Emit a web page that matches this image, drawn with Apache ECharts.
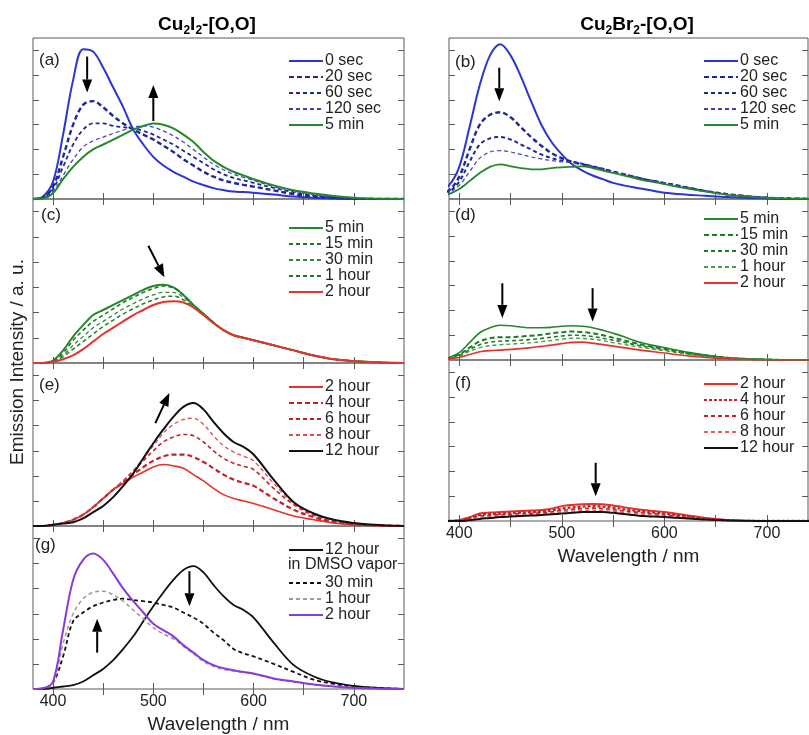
<!DOCTYPE html>
<html>
<head>
<meta charset="utf-8">
<script src="https://cdn.jsdelivr.net/npm/echarts@6/dist/echarts.min.js"></script>
<style>
  html, body { margin: 0; padding: 0; background: #fff; }
  #chart { width: 809px; height: 735px; }
</style>
</head>
<body>
<div id="chart"></div>
<script>
// wavelength grid (nm) shared by every trace
const wl = [380, 390, 400, 410, 420, 430, 440, 450, 460, 470, 480, 490, 500, 510, 520, 530, 540, 550, 560, 570, 580, 590, 600, 620, 640, 660, 680, 700, 720, 750]

const xTicks = [400, 450, 500, 550, 600, 650, 700]
const xLabels = [400, 500, 600, 700]
const yTicks = [1, 2, 3, 4, 5, 6]

// (a) Cu2I2, 0 sec -> 5 min
const a0s = [0, 0.1, 0.7, 2.6, 4.8, 6.05, 5.95, 5.3, 4.5, 3.7, 2.8, 2.2, 1.7, 1.35, 1.1, 0.9, 0.7, 0.56, 0.44, 0.36, 0.3, 0.28, 0.25, 0.18, 0.1, 0.05, 0.02, 0, 0, 0]
const a20s = [0, 0.05, 0.5, 1.7, 3.0, 3.8, 3.95, 3.7, 3.35, 3.05, 2.8, 2.6, 2.4, 2.15, 1.9, 1.6, 1.35, 1.1, 0.9, 0.75, 0.65, 0.57, 0.5, 0.35, 0.2, 0.1, 0.05, 0.02, 0, 0]
const a60s = [0, 0.05, 0.4, 1.3, 2.2, 2.8, 3.05, 3.05, 2.95, 2.9, 2.85, 2.75, 2.6, 2.4, 2.2, 1.95, 1.7, 1.45, 1.2, 1.0, 0.85, 0.75, 0.65, 0.45, 0.28, 0.15, 0.07, 0.03, 0, 0]
const a120s = [0, 0.03, 0.3, 0.95, 1.6, 2.1, 2.35, 2.5, 2.65, 2.78, 2.9, 2.95, 2.9, 2.75, 2.55, 2.3, 2.0, 1.7, 1.4, 1.18, 1.0, 0.87, 0.75, 0.5, 0.32, 0.18, 0.08, 0.03, 0, 0]
const a5m = [0, 0.02, 0.24, 0.8, 1.3, 1.7, 2.0, 2.2, 2.4, 2.6, 2.8, 2.95, 3.05, 3.0, 2.85, 2.6, 2.3, 1.9, 1.55, 1.3, 1.1, 0.95, 0.8, 0.55, 0.35, 0.22, 0.12, 0.05, 0.02, 0]

// (c) Cu2I2, 5 min -> 2 hour
const c5m = [0, 0, 0.1, 0.5, 1.05, 1.5, 1.9, 2.1, 2.3, 2.5, 2.7, 2.9, 3.05, 3.1, 3.0, 2.7, 2.3, 1.95, 1.6, 1.3, 1.1, 1.0, 0.9, 0.7, 0.5, 0.3, 0.15, 0.08, 0.03, 0]
const c15m = [0, 0, 0.08, 0.4, 0.9, 1.3, 1.65, 1.9, 2.15, 2.4, 2.6, 2.8, 2.95, 3.05, 2.98, 2.7, 2.3, 1.95, 1.6, 1.3, 1.1, 1.0, 0.9, 0.7, 0.5, 0.3, 0.15, 0.08, 0.03, 0]
const c30m = [0, 0, 0.06, 0.3, 0.7, 1.05, 1.4, 1.65, 1.9, 2.15, 2.35, 2.55, 2.7, 2.8, 2.8, 2.6, 2.25, 1.92, 1.6, 1.3, 1.1, 1.0, 0.9, 0.7, 0.5, 0.3, 0.15, 0.08, 0.03, 0]
const c1h = [0, 0, 0.05, 0.25, 0.55, 0.85, 1.15, 1.45, 1.7, 1.95, 2.15, 2.35, 2.5, 2.62, 2.65, 2.5, 2.2, 1.9, 1.58, 1.3, 1.1, 1.0, 0.9, 0.7, 0.5, 0.3, 0.15, 0.08, 0.03, 0]
const c2h = [0, 0, 0.05, 0.15, 0.3, 0.55, 0.85, 1.15, 1.4, 1.65, 1.9, 2.1, 2.3, 2.42, 2.45, 2.4, 2.2, 1.9, 1.58, 1.3, 1.1, 1.0, 0.9, 0.7, 0.5, 0.3, 0.15, 0.08, 0.03, 0]

// (e) Cu2I2, 2 hour -> 12 hour
const e2h = [0, 0, 0.05, 0.12, 0.25, 0.45, 0.75, 1.1, 1.45, 1.7, 1.95, 2.15, 2.35, 2.45, 2.4, 2.3, 2.05, 1.8, 1.5, 1.25, 1.1, 1.0, 0.9, 0.65, 0.4, 0.25, 0.12, 0.05, 0.02, 0]
const e4h = [0, 0, 0.05, 0.12, 0.25, 0.45, 0.75, 1.1, 1.45, 1.75, 2.05, 2.35, 2.6, 2.78, 2.85, 2.85, 2.75, 2.55, 2.3, 2.05, 1.85, 1.72, 1.6, 1.1, 0.65, 0.35, 0.17, 0.07, 0.03, 0]
const e6h = [0, 0, 0.05, 0.12, 0.25, 0.45, 0.75, 1.1, 1.45, 1.8, 2.2, 2.6, 3.0, 3.35, 3.55, 3.65, 3.6, 3.35, 3.0, 2.7, 2.5, 2.38, 2.25, 1.5, 0.85, 0.42, 0.2, 0.08, 0.03, 0]
const e8h = [0, 0, 0.05, 0.12, 0.25, 0.45, 0.75, 1.1, 1.45, 1.8, 2.2, 2.7, 3.2, 3.7, 4.05, 4.25, 4.3, 4.05, 3.6, 3.2, 2.95, 2.78, 2.6, 1.7, 0.9, 0.45, 0.22, 0.1, 0.04, 0]
const i12h = [0, 0, 0.05, 0.1, 0.15, 0.3, 0.55, 0.8, 1.15, 1.6, 2.1, 2.7, 3.3, 3.85, 4.35, 4.75, 4.9, 4.65, 4.15, 3.7, 3.35, 3.15, 2.85, 1.85, 0.95, 0.5, 0.25, 0.12, 0.05, 0]

// (g) Cu2I2 in DMSO vapor
const g30m = [0, 0.02, 0.25, 1.3, 2.7, 3.05, 3.3, 3.45, 3.55, 3.6, 3.55, 3.5, 3.45, 3.35, 3.25, 3.05, 2.85, 2.6, 2.25, 1.95, 1.6, 1.42, 1.3, 1.0, 0.68, 0.37, 0.2, 0.1, 0.05, 0]
const g1h = [0, 0.02, 0.25, 1.8, 3.0, 3.6, 3.85, 3.9, 3.75, 3.5, 3.15, 2.8, 2.45, 2.2, 2.0, 1.7, 1.4, 1.1, 0.9, 0.78, 0.72, 0.66, 0.6, 0.4, 0.28, 0.17, 0.1, 0.05, 0.02, 0]
const g2h = [0, 0.03, 0.3, 2.35, 4.35, 5.15, 5.4, 5.15, 4.6, 4.0, 3.5, 3.05, 2.6, 2.35, 2.1, 1.75, 1.45, 1.15, 0.95, 0.83, 0.75, 0.68, 0.62, 0.42, 0.3, 0.18, 0.1, 0.05, 0.02, 0]

// (b) Cu2Br2, 0 sec -> 5 min
const b0s = [0.3, 0.55, 1.3, 2.9, 4.6, 5.8, 6.25, 5.8, 4.95, 3.95, 3.0, 2.3, 1.8, 1.4, 1.15, 0.95, 0.8, 0.65, 0.55, 0.47, 0.4, 0.32, 0.25, 0.18, 0.13, 0.08, 0.04, 0.02, 0, 0]
const b20s = [0.2, 0.35, 0.9, 2.0, 3.0, 3.4, 3.5, 3.3, 2.9, 2.5, 2.15, 1.85, 1.65, 1.5, 1.4, 1.3, 1.2, 1.1, 1.0, 0.9, 0.8, 0.72, 0.64, 0.48, 0.32, 0.2, 0.11, 0.05, 0.02, 0]
const b60s = [0.15, 0.3, 0.7, 1.5, 2.2, 2.45, 2.5, 2.4, 2.2, 2.0, 1.8, 1.65, 1.55, 1.5, 1.42, 1.32, 1.22, 1.1, 1.0, 0.9, 0.8, 0.72, 0.64, 0.48, 0.32, 0.2, 0.11, 0.05, 0.02, 0]
const b120s = [0.1, 0.25, 0.55, 1.1, 1.65, 1.9, 1.95, 1.9, 1.8, 1.7, 1.62, 1.55, 1.5, 1.48, 1.42, 1.32, 1.22, 1.1, 1.0, 0.9, 0.8, 0.72, 0.64, 0.48, 0.32, 0.2, 0.11, 0.05, 0.02, 0]
const b5m = [0.1, 0.2, 0.4, 0.72, 1.05, 1.3, 1.4, 1.32, 1.25, 1.2, 1.2, 1.25, 1.28, 1.3, 1.32, 1.25, 1.15, 1.05, 0.95, 0.85, 0.75, 0.68, 0.6, 0.44, 0.3, 0.18, 0.1, 0.05, 0.02, 0]

// (d) Cu2Br2, 5 min -> 2 hour
const d5m = [0, 0.1, 0.3, 0.7, 1.1, 1.3, 1.4, 1.38, 1.33, 1.3, 1.3, 1.32, 1.36, 1.38, 1.36, 1.3, 1.2, 1.08, 0.95, 0.8, 0.68, 0.58, 0.5, 0.33, 0.2, 0.1, 0.05, 0.02, 0, 0]
const d15m = [0, 0.08, 0.22, 0.5, 0.75, 0.88, 0.92, 0.92, 0.95, 0.98, 1.02, 1.08, 1.12, 1.15, 1.13, 1.08, 1.0, 0.9, 0.8, 0.7, 0.6, 0.52, 0.45, 0.3, 0.18, 0.09, 0.04, 0.02, 0, 0]
const d30m = [0, 0.07, 0.18, 0.42, 0.62, 0.72, 0.76, 0.78, 0.8, 0.83, 0.87, 0.92, 0.97, 1.0, 0.99, 0.95, 0.88, 0.8, 0.72, 0.63, 0.55, 0.48, 0.42, 0.28, 0.16, 0.08, 0.04, 0.02, 0, 0]
const d1h = [0, 0.06, 0.15, 0.35, 0.5, 0.58, 0.62, 0.64, 0.67, 0.7, 0.74, 0.79, 0.84, 0.88, 0.87, 0.84, 0.78, 0.7, 0.63, 0.56, 0.49, 0.43, 0.38, 0.25, 0.14, 0.07, 0.03, 0.01, 0, 0]
const d2h = [0, 0.05, 0.1, 0.22, 0.33, 0.38, 0.4, 0.43, 0.46, 0.5, 0.55, 0.6, 0.66, 0.71, 0.72, 0.68, 0.62, 0.56, 0.5, 0.44, 0.38, 0.33, 0.28, 0.18, 0.1, 0.05, 0.02, 0.01, 0, 0]

// (f) Cu2Br2, 2 hour -> 12 hour
const f2h = [0, 0, 0.04, 0.15, 0.3, 0.34, 0.36, 0.38, 0.4, 0.42, 0.44, 0.5, 0.6, 0.65, 0.68, 0.69, 0.68, 0.63, 0.56, 0.5, 0.44, 0.4, 0.36, 0.24, 0.12, 0.04, 0, 0, 0, 0]
const f4h = [0, 0, 0.03, 0.12, 0.25, 0.28, 0.3, 0.32, 0.34, 0.36, 0.38, 0.43, 0.5, 0.55, 0.58, 0.6, 0.58, 0.54, 0.48, 0.43, 0.38, 0.34, 0.3, 0.2, 0.1, 0.03, 0, 0, 0, 0]
const f6h = [0, 0, 0.02, 0.1, 0.2, 0.23, 0.25, 0.27, 0.29, 0.31, 0.33, 0.37, 0.43, 0.47, 0.5, 0.52, 0.5, 0.46, 0.41, 0.37, 0.32, 0.29, 0.25, 0.16, 0.08, 0.03, 0, 0, 0, 0]
const f8h = [0, 0, 0.01, 0.07, 0.15, 0.18, 0.2, 0.22, 0.24, 0.26, 0.28, 0.32, 0.37, 0.4, 0.42, 0.44, 0.42, 0.39, 0.35, 0.31, 0.27, 0.24, 0.2, 0.13, 0.07, 0.02, 0, 0, 0, 0]
const f12h = [0, 0, 0, 0.03, 0.08, 0.12, 0.16, 0.18, 0.2, 0.22, 0.24, 0.27, 0.3, 0.33, 0.36, 0.36, 0.36, 0.33, 0.28, 0.24, 0.2, 0.18, 0.16, 0.11, 0.06, 0.03, 0.01, 0, 0, 0]

// arrows drawn in data coords: [panel, x1, y1, x2, y2]
const arrows = [
  [0, 434, 5.75, 434, 4.3], [0, 500, 3.15, 500, 4.6],
  [1, 495, 4.65, 511, 3.4],
  [2, 502, 4.1, 516, 5.3],
  [3, 536, 4.7, 536, 3.3], [3, 444, 1.45, 444, 2.8],
  [4, 439, 5.3, 439, 3.95],
  [5, 442, 3.1, 442, 1.7], [5, 530, 2.9, 530, 1.55],
  [6, 533, 2.35, 533, 1.0]
]

// panel layout: a, c, e, g on the left, b, d, f on the right
const panelLabels = ['(a)', '(c)', '(e)', '(g)', '(b)', '(d)', '(f)']
const gridTop = [38, 199, 363, 526, 38, 199, 360]
const gridH = [161, 164, 163, 163, 161, 161, 161]
const labelPos = [[39, 60], [41, 215], [39, 385], [35, 545], [455, 62], [455, 215], [455, 383]]
const legendPos = [[288, 53], [288, 220], [288, 379], [288, 575], [703, 53], [703, 211], [703, 376]]

const font = 'Liberation Sans, Arial, sans-serif'
const BLUE = '#2a36d4', NAVY = '#1e2896', GREEN = '#24882c', RED = '#e5322c', DRED = '#c81e2a'

const series = []
const legendNames = [[], [], [], [], [], [], []]

function line(panel, name, data, color, width, dash) {
  const id = panel + '|' + name
  series.push({
    type: 'line',
    name: id,
    xAxisIndex: panel * 2,
    yAxisIndex: panel * 2,
    data: wl.map((w, i) => [w, data[i]]),
    showSymbol: false,
    symbol: 'none',
    smooth: 0.35,
    lineStyle: { color: color, width: width, type: dash || 'solid' },
    itemStyle: { color: color },
    z: 3,
  })
  return id
}

legendNames[0] = [
  line(0, '0 sec', a0s, BLUE, 2),
  line(0, '20 sec', a20s, NAVY, 2.4, [5, 3]),
  line(0, '60 sec', a60s, NAVY, 1.8, [4, 3]),
  line(0, '120 sec', a120s, '#3b40b8', 1.2, [4, 3]),
  line(0, '5 min', a5m, GREEN, 2),
]
legendNames[1] = [
  line(1, '5 min', c5m, GREEN, 2),
  line(1, '15 min', c15m, '#1f7a2a', 1.6, [4, 3]),
  line(1, '30 min', c30m, '#2f8a3a', 1.3, [4, 3]),
  line(1, '1 hour', c1h, '#1f7a2a', 1.5, [4, 3]),
  line(1, '2 hour', c2h, RED, 2),
]
legendNames[2] = [
  line(2, '2 hour', e2h, RED, 1.6),
  line(2, '4 hour', e4h, DRED, 2.2, [5, 3]),
  line(2, '6 hour', e6h, DRED, 1.6, [4, 3]),
  line(2, '8 hour', e8h, '#d84a4a', 1.3, [4, 3]),
  line(2, '12 hour', i12h, '#111', 2),
]
const g12 = line(3, '12 hour', i12h, '#111', 1.8)
legendNames[3] = [
  line(3, '30 min', g30m, '#111', 1.8, [4, 3]),
  line(3, '1 hour', g1h, '#9a9a9a', 1.5, [4, 3]),
  line(3, '2 hour', g2h, '#8a3ad8', 2),
]
legendNames[4] = [
  line(4, '0 sec', b0s, BLUE, 2),
  line(4, '20 sec', b20s, NAVY, 2.4, [5, 3]),
  line(4, '60 sec', b60s, NAVY, 2, [4, 3]),
  line(4, '120 sec', b120s, '#3b40b8', 1.2, [4, 3]),
  line(4, '5 min', b5m, GREEN, 1.8),
]
legendNames[5] = [
  line(5, '5 min', d5m, GREEN, 1.6),
  line(5, '15 min', d15m, '#1f7a2a', 2, [5, 3]),
  line(5, '30 min', d30m, '#1f7a2a', 1.6, [4, 3]),
  line(5, '1 hour', d1h, '#4a9a4a', 1.4, [4, 3]),
  line(5, '2 hour', d2h, RED, 1.6),
]
legendNames[6] = [
  line(6, '2 hour', f2h, RED, 2),
  line(6, '4 hour', f4h, DRED, 2.4, [3, 2]),
  line(6, '6 hour', f6h, DRED, 1.6, [4, 3]),
  line(6, '8 hour', f8h, '#e06060', 1.3, [4, 3]),
  line(6, '12 hour', f12h, '#111', 2),
]

// arrow = shaft + filled head, placed through the panel's axes
function renderArrow(params, api) {
  const p1 = api.coord([api.value(0), api.value(1)])
  const p2 = api.coord([api.value(2), api.value(3)])
  const dx = p2[0] - p1[0], dy = p2[1] - p1[1]
  const len = Math.sqrt(dx * dx + dy * dy)
  const ux = dx / len, uy = dy / len
  const headL = 13, headW = 5
  const bx = p2[0] - ux * headL, by = p2[1] - uy * headL
  return {
    type: 'group',
    children: [
      { type: 'line', shape: { x1: p1[0], y1: p1[1], x2: bx, y2: by }, style: { stroke: '#000', lineWidth: 2 } },
      {
        type: 'polygon',
        shape: { points: [[p2[0], p2[1]], [bx - uy * headW, by + ux * headW], [bx + uy * headW, by - ux * headW]] },
        style: { fill: '#000' },
      },
    ],
  }
}

for (let p = 0; p < 7; p++) {
  series.push({
    type: 'custom',
    xAxisIndex: p * 2,
    yAxisIndex: p * 2,
    silent: true,
    renderItem: renderArrow,
    encode: { x: [0, 2], y: [1, 3] },
    data: arrows.filter(a => a[0] === p).map(a => a.slice(1)),
    z: 5,
  })
}

const grids = [], xAxes = [], yAxes = [], legends = []
const legendBase = {
  orient: 'vertical', padding: 0, itemGap: 0, itemWidth: 34, itemHeight: 14,
  selectedMode: false,
  itemStyle: { opacity: 0 },
  formatter: n => n.split('|')[1],
  textStyle: { color: '#222', fontSize: 16, lineHeight: 16, fontFamily: font, padding: [0, 0, 0, -3] },
}
for (let p = 0; p < 7; p++) {
  const right = p >= 4
  grids.push({
    left: right ? 449 : 33,
    width: right ? 359 : 371,
    top: gridTop[p],
    height: gridH[p],
    outerBoundsMode: 'none',
    show: true,
    borderColor: '#5a5a5a',
    borderWidth: 1,
  })
  const bottomPanel = p === 3 || p === 6
  const xmin = right ? 390 : 380
  const xmax = right ? 740 : 750
  const tick = { show: true, inside: true, length: 6, lineStyle: { color: '#5a5a5a' }, customValues: xTicks }
  xAxes.push({
    type: 'value', gridIndex: p, min: xmin, max: xmax, position: 'bottom',
    axisLine: { show: false }, splitLine: { show: false }, axisTick: tick,
    axisLabel: { show: bottomPanel, customValues: xLabels, color: '#222', fontSize: 16, fontFamily: font, margin: 5 },
    name: bottomPanel ? 'Wavelength / nm' : '', nameLocation: 'middle', nameGap: 26,
    nameTextStyle: { color: '#222', fontSize: 19, fontFamily: font },
  })
  xAxes.push({
    type: 'value', gridIndex: p, min: xmin, max: xmax, position: 'top',
    axisLine: { show: false }, splitLine: { show: false }, axisTick: tick,
    axisLabel: { show: false },
  })
  const ytick = { show: true, inside: true, length: 6, lineStyle: { color: '#5a5a5a' }, customValues: yTicks }
  yAxes.push({
    type: 'value', gridIndex: p, min: 0, max: 6.5, position: 'left',
    axisLine: { show: false }, splitLine: { show: false }, axisTick: ytick, axisLabel: { show: false },
  })
  yAxes.push({
    type: 'value', gridIndex: p, min: 0, max: 6.5, position: 'right',
    axisLine: { show: false }, splitLine: { show: false }, axisTick: ytick, axisLabel: { show: false },
  })
  legends.push(Object.assign({}, legendBase, {
    data: legendNames[p], left: legendPos[p][0], top: legendPos[p][1],
  }))
}
legends.push(Object.assign({}, legendBase, { data: [g12], left: 288, top: 542 }))

const titleRich = {
  b: { fontSize: 19, fontWeight: 'bold', fontFamily: font, color: '#222', lineHeight: 24, verticalAlign: 'middle' },
  s: { fontSize: 12, fontWeight: 'bold', fontFamily: font, color: '#222', lineHeight: 12, verticalAlign: 'bottom' },
}

const graphic = [
  { type: 'text', x: 207, y: 25, style: { text: '{b|Cu}{s|2}{b|I}{s|2}{b|-[O,O]}', rich: titleRich, align: 'center', verticalAlign: 'middle' } },
  { type: 'text', x: 637, y: 25, style: { text: '{b|Cu}{s|2}{b|Br}{s|2}{b|-[O,O]}', rich: titleRich, align: 'center', verticalAlign: 'middle' } },
  { type: 'text', x: 18, y: 362, rotation: Math.PI / 2, style: { text: 'Emission Intensity / a. u.', fill: '#222', font: '19px ' + font, align: 'center', verticalAlign: 'middle' } },
  { type: 'text', x: 288, y: 565, style: { text: 'in DMSO vapor', fill: '#222', font: '16px ' + font, verticalAlign: 'middle' } },
]
panelLabels.forEach((t, i) => {
  graphic.push({ type: 'text', x: labelPos[i][0], y: labelPos[i][1], style: { text: t, fill: '#222', font: '17px ' + font, verticalAlign: 'middle' } })
})

const chart = echarts.init(document.getElementById('chart'))
chart.setOption({
  animation: false,
  backgroundColor: '#fff',
  grid: grids,
  xAxis: xAxes,
  yAxis: yAxes,
  legend: legends,
  graphic: graphic,
  series: series,
})
</script>
</body>
</html>
